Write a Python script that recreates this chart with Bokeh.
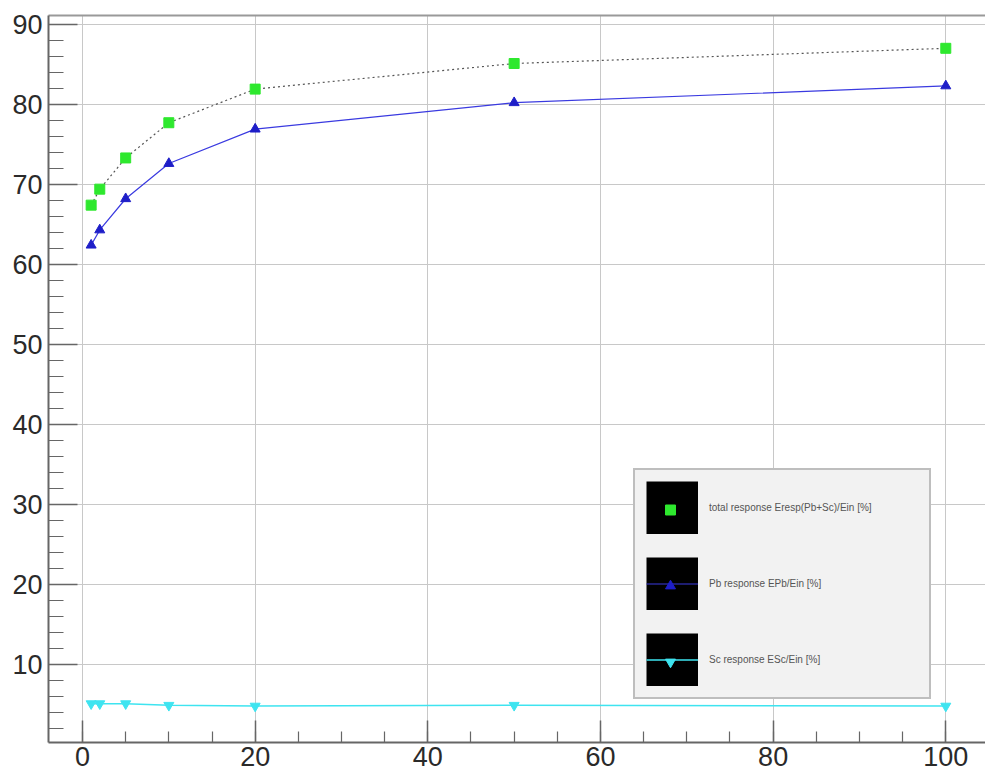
from bokeh.plotting import figure
from bokeh.models import (Range1d, SingleIntervalTicker, LinearAxis, FixedTicker,
                          Legend, LegendItem)
from bokeh.embed import file_html
from bokeh.resources import INLINE

# ---- data ----
energy = [1, 2, 5, 10, 20, 50, 100]
total_response = [67.4, 69.4, 73.3, 77.7, 81.9, 85.1, 87.0]
pb_response = [62.4, 64.3, 68.2, 72.6, 76.9, 80.2, 82.3]
sc_response = [5.1, 5.1, 5.1, 4.9, 4.8, 4.9, 4.8]
series_labels = ["total response Eresp(Pb+Sc)/Ein [%]",
                 "Pb response EPb/Ein [%]",
                 "Sc response ESc/Ein [%]"]
x_tick_step = 20
y_tick_step = 10

GREEN = "#2ee82e"
BLUE_LINE = "#3a3ae0"
BLUE_MARK = "#1e1ec8"
CYAN = "#3ee4f0"
FONT = "Liberation Sans"
NAN = float("nan")

p = figure(width=985, height=777, output_backend="svg", toolbar_location=None,
           x_range=Range1d(-3.94, 104.6), y_range=Range1d(0.25, 91.1),
           min_border_left=48, min_border_right=0, min_border_top=15,
           min_border_bottom=35, background_fill_color="white",
           border_fill_color="white")
p.outline_line_color = None

# axes
xa = p.xaxis[0]
ya = p.yaxis[0]
xa.ticker = SingleIntervalTicker(interval=x_tick_step, num_minor_ticks=4)
ya.ticker = SingleIntervalTicker(interval=y_tick_step, num_minor_ticks=5)
p.xgrid.ticker = xa.ticker
p.ygrid.ticker = ya.ticker
p.grid.grid_line_color = "#c8c8c8"
p.grid.grid_line_width = 1

for ax in (xa, ya):
    ax.axis_line_color = "#666666"
    ax.axis_line_width = 2
    ax.major_tick_line_color = "#666666"
    ax.minor_tick_line_color = "#666666"
    ax.major_tick_line_width = 1.5
    ax.minor_tick_line_width = 1.2
    ax.major_tick_out = 0
    ax.minor_tick_out = 0
    ax.major_label_text_font = FONT
    ax.major_label_text_font_size = "27px"
    ax.major_label_text_color = "#2a2a2a"
xa.major_tick_in = 22
xa.minor_tick_in = 11
xa.major_label_standoff = 4
ya.major_tick_in = 29
ya.minor_tick_in = 15
ya.major_label_standoff = 6

top = LinearAxis(ticker=FixedTicker(ticks=[], minor_ticks=[]),
                 axis_line_color="#999999", axis_line_width=2,
                 major_tick_line_color=None, minor_tick_line_color=None,
                 major_label_text_font_size="0px")
p.add_layout(top, "above")

# ---- data marks ----
tot_line = p.line(energy, total_response, line_color="#555555", line_width=1.2,
                  line_dash="2 3")
tot_mark = p.scatter(energy, total_response, marker="square", size=10,
                     fill_color=GREEN, line_color=GREEN)
pb_line = p.line(energy, pb_response, line_color=BLUE_LINE, line_width=1.2)
pb_mark = p.scatter(energy, pb_response, marker="triangle", size=10,
                    fill_color=BLUE_MARK, line_color=BLUE_MARK)
sc_line = p.line(energy, sc_response, line_color=CYAN, line_width=1.5)
sc_mark = p.scatter(energy, sc_response, marker="inverted_triangle", size=10,
                    fill_color=CYAN, line_color=CYAN)

# legend helper: black square behind each entry (draws nothing in the plot)
black_box = p.line(x=[NAN, NAN], y=[NAN, NAN], line_color="black",
                   line_width=53, line_cap="butt")

legend_a = Legend(items=[
    LegendItem(label=series_labels[0], renderers=[black_box]),
    LegendItem(label=series_labels[1], renderers=[black_box, pb_line]),
    LegendItem(label=series_labels[2], renderers=[black_box, sc_line]),
], location=(585, 43), glyph_width=52, glyph_height=53, padding=11, spacing=23,
    label_standoff=11, label_text_font=FONT, label_text_font_size="10px",
    label_text_color="#555555", background_fill_color="#f2f2f2",
    background_fill_alpha=1.0, border_line_color="#8a8a8a", border_line_width=2,
    margin=0, label_width=209)
p.add_layout(legend_a, "center")

legend_b = Legend(items=[
    LegendItem(label=" ", renderers=[tot_mark]),
    LegendItem(label=" ", renderers=[pb_mark]),
    LegendItem(label=" ", renderers=[sc_mark]),
], location=(596, 68), glyph_width=52, glyph_height=25, padding=0, spacing=51,
    label_text_font_size="1px", background_fill_alpha=0.0,
    border_line_color=None, margin=0, label_width=1, label_height=1)
p.add_layout(legend_b, "center")

open("out.html", "w").write(file_html(p, INLINE))
